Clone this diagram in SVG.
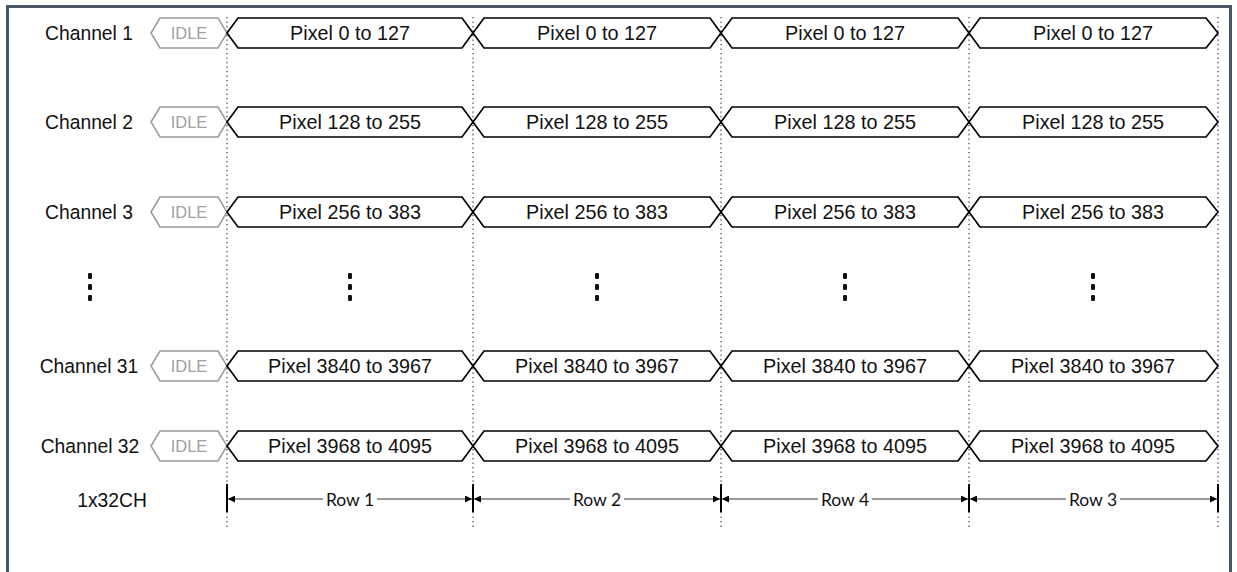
<svg xmlns="http://www.w3.org/2000/svg" width="1237" height="572" viewBox="0 0 1237 572">
<defs>
<style>
.lbl{font-family:"Liberation Sans",Arial,sans-serif;font-size:19.3px;fill:#111;text-anchor:middle;dominant-baseline:central}
.pix{font-family:"Liberation Sans",Arial,sans-serif;font-size:19.8px;fill:#111;text-anchor:middle;dominant-baseline:central}
.idle{fill:#fff;stroke:#9a9a9a;stroke-width:1.5}
.idlet{font-family:"Liberation Sans",Arial,sans-serif;font-size:16.5px;fill:#a0a0a0;text-anchor:middle;dominant-baseline:central}
.bus{fill:#fff;stroke:#000;stroke-width:1.7;stroke-linejoin:miter}
.div{stroke:#333;stroke-width:1.2;stroke-dasharray:1.2 3.3;fill:none}
.dot{fill:#111}
.dim{stroke:#7a7a7a;stroke-width:1.6;fill:none}
.tick{stroke:#000;stroke-width:2}
.row{font-family:Lato,"Open Sans",sans-serif;font-size:17.5px;fill:#111;text-anchor:middle;dominant-baseline:central}
</style>
<marker id="ah" viewBox="0 0 10 10" refX="10" refY="5" markerWidth="7" markerHeight="7" markerUnits="userSpaceOnUse" orient="auto-start-reverse">
<path d="M0,0 L10,5 L0,10 Z" fill="#000"/>
</marker>
</defs>
<rect x="0" y="0" width="1237" height="572" fill="#fff"/>
<path d="M7.5,580 L7.5,6.5 L1230.5,6.5 L1230.5,580" fill="none" stroke="#485664" stroke-width="3"/>

<g id="dividers">
<line class="div" x1="227" y1="17" x2="227" y2="528"/>
<line class="div" x1="473" y1="17" x2="473" y2="528"/>
<line class="div" x1="721" y1="17" x2="721" y2="528"/>
<line class="div" x1="969" y1="17" x2="969" y2="528"/>
<line class="div" x1="1218" y1="17" x2="1218" y2="528"/>
</g>

<g id="ch1">
<text class="lbl" x="89" y="33">Channel 1</text>
<polygon class="idle" points="151,33 160,18 218,18 227,33 218,48 160,48"/>
<text class="idlet" x="189" y="33">IDLE</text>
<polygon class="bus" points="227,33 238,18 462,18 473,33 462,48 238,48"/>
<polygon class="bus" points="473,33 484,18 710,18 721,33 710,48 484,48"/>
<polygon class="bus" points="721,33 732,18 958,18 969,33 958,48 732,48"/>
<polygon class="bus" points="969,33 980,18 1206,18 1218,33 1206,48 980,48"/>
<text class="pix" x="350" y="33">Pixel 0 to 127</text>
<text class="pix" x="597" y="33">Pixel 0 to 127</text>
<text class="pix" x="845" y="33">Pixel 0 to 127</text>
<text class="pix" x="1093" y="33">Pixel 0 to 127</text>
</g>

<g id="ch2">
<text class="lbl" x="89" y="122">Channel 2</text>
<polygon class="idle" points="151,122 160,107 218,107 227,122 218,137 160,137"/>
<text class="idlet" x="189" y="122">IDLE</text>
<polygon class="bus" points="227,122 238,107 462,107 473,122 462,137 238,137"/>
<polygon class="bus" points="473,122 484,107 710,107 721,122 710,137 484,137"/>
<polygon class="bus" points="721,122 732,107 958,107 969,122 958,137 732,137"/>
<polygon class="bus" points="969,122 980,107 1206,107 1218,122 1206,137 980,137"/>
<text class="pix" x="350" y="122">Pixel 128 to 255</text>
<text class="pix" x="597" y="122">Pixel 128 to 255</text>
<text class="pix" x="845" y="122">Pixel 128 to 255</text>
<text class="pix" x="1093" y="122">Pixel 128 to 255</text>
</g>

<g id="ch3">
<text class="lbl" x="89" y="212">Channel 3</text>
<polygon class="idle" points="151,212 160,197 218,197 227,212 218,227 160,227"/>
<text class="idlet" x="189" y="212">IDLE</text>
<polygon class="bus" points="227,212 238,197 462,197 473,212 462,227 238,227"/>
<polygon class="bus" points="473,212 484,197 710,197 721,212 710,227 484,227"/>
<polygon class="bus" points="721,212 732,197 958,197 969,212 958,227 732,227"/>
<polygon class="bus" points="969,212 980,197 1206,197 1218,212 1206,227 980,227"/>
<text class="pix" x="350" y="212">Pixel 256 to 383</text>
<text class="pix" x="597" y="212">Pixel 256 to 383</text>
<text class="pix" x="845" y="212">Pixel 256 to 383</text>
<text class="pix" x="1093" y="212">Pixel 256 to 383</text>
</g>

<g id="ellipsis">
<rect class="dot" x="88" y="273" width="4" height="6" rx="1.2"/>
<rect class="dot" x="88" y="284" width="4" height="6" rx="1.2"/>
<rect class="dot" x="88" y="295" width="4" height="6" rx="1.2"/>
<rect class="dot" x="348" y="273" width="4" height="6" rx="1.2"/>
<rect class="dot" x="348" y="284" width="4" height="6" rx="1.2"/>
<rect class="dot" x="348" y="295" width="4" height="6" rx="1.2"/>
<rect class="dot" x="595" y="273" width="4" height="6" rx="1.2"/>
<rect class="dot" x="595" y="284" width="4" height="6" rx="1.2"/>
<rect class="dot" x="595" y="295" width="4" height="6" rx="1.2"/>
<rect class="dot" x="843" y="273" width="4" height="6" rx="1.2"/>
<rect class="dot" x="843" y="284" width="4" height="6" rx="1.2"/>
<rect class="dot" x="843" y="295" width="4" height="6" rx="1.2"/>
<rect class="dot" x="1091" y="273" width="4" height="6" rx="1.2"/>
<rect class="dot" x="1091" y="284" width="4" height="6" rx="1.2"/>
<rect class="dot" x="1091" y="295" width="4" height="6" rx="1.2"/>
</g>

<g id="ch31">
<text class="lbl" x="89" y="366">Channel 31</text>
<polygon class="idle" points="151,366 160,351 218,351 227,366 218,381 160,381"/>
<text class="idlet" x="189" y="366">IDLE</text>
<polygon class="bus" points="227,366 238,351 462,351 473,366 462,381 238,381"/>
<polygon class="bus" points="473,366 484,351 710,351 721,366 710,381 484,381"/>
<polygon class="bus" points="721,366 732,351 958,351 969,366 958,381 732,381"/>
<polygon class="bus" points="969,366 980,351 1206,351 1218,366 1206,381 980,381"/>
<text class="pix" x="350" y="366">Pixel 3840 to 3967</text>
<text class="pix" x="597" y="366">Pixel 3840 to 3967</text>
<text class="pix" x="845" y="366">Pixel 3840 to 3967</text>
<text class="pix" x="1093" y="366">Pixel 3840 to 3967</text>
</g>

<g id="ch32">
<text class="lbl" x="90" y="446">Channel 32</text>
<polygon class="idle" points="151,446 160,431 218,431 227,446 218,461 160,461"/>
<text class="idlet" x="189" y="446">IDLE</text>
<polygon class="bus" points="227,446 238,431 462,431 473,446 462,461 238,461"/>
<polygon class="bus" points="473,446 484,431 710,431 721,446 710,461 484,461"/>
<polygon class="bus" points="721,446 732,431 958,431 969,446 958,461 732,461"/>
<polygon class="bus" points="969,446 980,431 1206,431 1218,446 1206,461 980,461"/>
<text class="pix" x="350" y="446">Pixel 3968 to 4095</text>
<text class="pix" x="597" y="446">Pixel 3968 to 4095</text>
<text class="pix" x="845" y="446">Pixel 3968 to 4095</text>
<text class="pix" x="1093" y="446">Pixel 3968 to 4095</text>
</g>

<g id="mode">
<text class="lbl" x="112" y="500">1x32CH</text>
</g>

<g id="connectors">
<line class="tick" x1="227" y1="484" x2="227" y2="512"/>
<line class="tick" x1="473" y1="484" x2="473" y2="512"/>
<line class="tick" x1="721" y1="484" x2="721" y2="512"/>
<line class="tick" x1="969" y1="484" x2="969" y2="512"/>
<line class="tick" x1="1218" y1="484" x2="1218" y2="512"/>
<line class="dim" x1="323" y1="499" x2="228" y2="499" marker-end="url(#ah)"/>
<line class="dim" x1="377" y1="499" x2="472" y2="499" marker-end="url(#ah)"/>
<line class="dim" x1="570" y1="499" x2="474" y2="499" marker-end="url(#ah)"/>
<line class="dim" x1="624" y1="499" x2="720" y2="499" marker-end="url(#ah)"/>
<line class="dim" x1="818" y1="499" x2="722" y2="499" marker-end="url(#ah)"/>
<line class="dim" x1="872" y1="499" x2="968" y2="499" marker-end="url(#ah)"/>
<line class="dim" x1="1066" y1="499" x2="970" y2="499" marker-end="url(#ah)"/>
<line class="dim" x1="1120" y1="499" x2="1217" y2="499" marker-end="url(#ah)"/>
</g>

<g id="row-labels">
<text class="row" x="350" y="499">Row 1</text>
<text class="row" x="597" y="499">Row 2</text>
<text class="row" x="845" y="499">Row 4</text>
<text class="row" x="1093" y="499">Row 3</text>
</g>
</svg>
